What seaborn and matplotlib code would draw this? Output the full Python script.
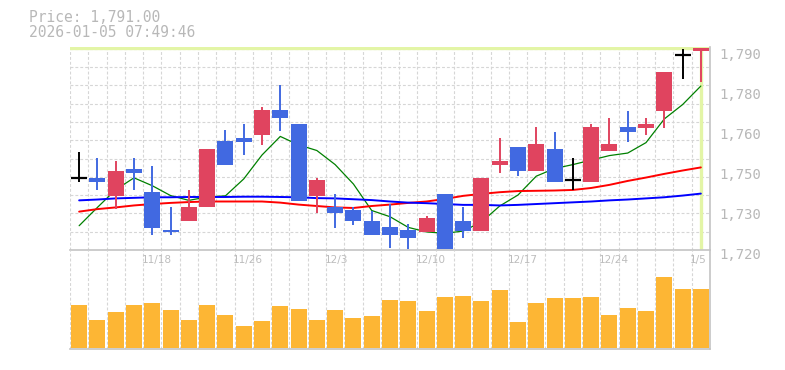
import numpy as np
import pandas as pd
import matplotlib
matplotlib.use("Agg")
import matplotlib.pyplot as plt
import matplotlib.transforms as mtrans
import seaborn as sns

# ---------------- data ----------------
dates = ['11/12', '11/13', '11/14', '11/17', '11/18', '11/19', '11/20', '11/21', '11/25', '11/26',
         '11/27', '11/28', '12/1', '12/2', '12/3', '12/4', '12/5', '12/8', '12/9', '12/10',
         '12/11', '12/12', '12/15', '12/16', '12/17', '12/18', '12/19', '12/22', '12/23', '12/24',
         '12/25', '12/26', '12/29', '12/30', '1/5']
label_dates = ['11/18', '11/26', '12/3', '12/10', '12/17', '12/24', '1/5']

open_ = [1745, 1745, 1738.5, 1748, 1740, 1726.5, 1729.5, 1734.5, 1758, 1759,
         1760, 1769, 1764, 1738.5, 1734.5, 1733.5, 1729.5, 1727.5, 1726.5, 1725.5,
         1739, 1729.5, 1726, 1749.5, 1756, 1747.5, 1755, 1744, 1743.5, 1754.5,
         1763, 1762.5, 1768.5, 1788.5, 1790]
close = [1745, 1743.5, 1747.5, 1746.5, 1727, 1725.5, 1734.5, 1755, 1749.5, 1757.5,
         1769, 1766, 1736.5, 1744, 1732.5, 1729.5, 1724.5, 1724.5, 1723.5, 1730.5,
         1719.5, 1726, 1745, 1751, 1747.5, 1757, 1743.5, 1744, 1763, 1757,
         1761, 1764, 1782.5, 1788.5, 1791]
high = [1754, 1752, 1751, 1752, 1749, 1734.5, 1740.5, 1755, 1762, 1764,
        1770, 1778, 1764, 1745, 1739, 1734.5, 1733, 1735.5, 1728.5, 1731.5,
        1739, 1734.5, 1745, 1759, 1756, 1763, 1761, 1752, 1764, 1766,
        1768.5, 1766, 1782.5, 1790.5, 1791]
low = [1743.5, 1740.5, 1734, 1740.5, 1724.5, 1724.5, 1729.5, 1734.5, 1749.5, 1753,
       1756.5, 1761.5, 1736.5, 1732.5, 1727, 1728, 1724.5, 1720, 1719.5, 1725.5,
       1719.5, 1723.5, 1726, 1746.5, 1745.5, 1747.5, 1743.5, 1740.5, 1743.5, 1754.5,
       1757.5, 1760, 1762.5, 1780, 1779]

ma_short = [1727.9, 1734.4, 1740.7, 1744.9, 1742.1, 1738.6, 1736.9, 1738.1, 1738.5, 1744.5,
            1753.0, 1759.6, 1756.6, 1754.6, 1749.6, 1742.7, 1733.3, 1731.1, 1727.3, 1725.7,
            1725.2, 1726.0, 1729.2, 1734.9, 1738.8, 1745.5, 1748.2, 1749.6, 1751.2, 1752.8,
            1753.7, 1757.4, 1765.8, 1770.9, 1777.5]
ma_mid = [1732.9, 1733.8, 1734.4, 1735.1, 1735.6, 1736.0, 1736.3, 1736.5, 1736.5, 1736.5,
          1736.5, 1736.1, 1735.4, 1734.9, 1734.4, 1734.2, 1734.9, 1735.4, 1736.0, 1736.5,
          1737.4, 1738.5, 1739.2, 1739.8, 1740.2, 1740.3, 1740.4, 1740.6, 1741.3, 1742.4,
          1743.8, 1745.0, 1746.3, 1747.5, 1748.6]
ma_long = [1736.9, 1737.2, 1737.6, 1737.8, 1738.0, 1738.0, 1738.1, 1738.1, 1738.1, 1738.2,
           1738.2, 1738.1, 1738.0, 1737.7, 1737.6, 1737.3, 1737.0, 1736.5, 1736.1, 1735.9,
           1735.6, 1735.3, 1735.3, 1735.1, 1735.3, 1735.6, 1735.9, 1736.2, 1736.5, 1736.9,
           1737.2, 1737.6, 1738.0, 1738.6, 1739.3]
volume = [42.7, 27.7, 35.7, 42.7, 44.7, 37.7, 27.7, 42.7, 32.7, 21.7,
          26.7, 41.7, 38.7, 27.7, 37.7, 29.7, 31.7, 47.7, 46.7, 36.7,
          50.7, 51.7, 46.7, 57.7, 25.7, 44.7, 49.7, 49.7, 50.7, 32.7,
          39.7, 36.7, 70.7, 58.7, 58.7]
current_price = 1791.0
price_title = 'Price: 1,791.00'
time_title = '2026-01-05 07:49:46'

# ---------------- style ----------------
sns.set_theme(style="white")
plt.rcParams['font.family'] = ['DejaVu Sans']

UP = '#e0445f'
DOWN = '#4169e1'
DOJI = '#000000'
VOLC = '#fdb634'
GRID = '#d6d6d6'
SPINE = '#c4c4c4'
TXT = '#b8b8b8'
HL = '#e3f5a6'

W, H = 785, 370
fig = plt.figure(figsize=(W / 100, H / 100), dpi=100)
fig.patch.set_facecolor('white')

ax = fig.add_axes([70 / W, (H - 250) / H, 640 / W, 203 / H])
axv = fig.add_axes([70 / W, (H - 349.3) / H, 640 / W, 99.3 / H])

n = len(dates)
x = np.arange(n)
df = pd.DataFrame({'x': x, 'date': dates, 'open': open_, 'close': close,
                   'high': high, 'low': low, 'ma_s': ma_short, 'ma_m': ma_mid,
                   'ma_l': ma_long, 'vol': volume})

ylo, yhi = 1719.28, 1791.35
ax.set_xlim(-0.5, n - 0.5)
ax.set_ylim(ylo, yhi)
axv.set_xlim(-0.5, n - 0.5)
axv.set_ylim(-1.6, 97.7)

dash = (0, (2.6, 1.8))
# grid
cell = 18.29 / 203 * (yhi - ylo)
for k in range(12):
    ax.axhline(ylo + k * cell, color=GRID, lw=0.8, ls=dash, zorder=0)
for i in range(n + 1):
    ax.axvline(i - 0.5, color=GRID, lw=0.8, ls=dash, zorder=0)
    axv.axvline(i - 0.5, color=GRID, lw=0.8, ls=dash, zorder=0)

# current price highlight
ax.axhline(current_price, color=HL, lw=2.4, zorder=1)
ax.axvline(x[-1], color=HL, lw=2.4, zorder=1)

# moving averages
sns.lineplot(data=df, x='x', y='ma_s', ax=ax, color='green', lw=0.9, zorder=2, drawstyle='default')
sns.lineplot(data=df, x='x', y='ma_m', ax=ax, color='red', lw=1.4, zorder=2)
sns.lineplot(data=df, x='x', y='ma_l', ax=ax, color='blue', lw=1.4, zorder=2)

# candles
bw = 0.875
for xi, o, c, h, l in zip(x, open_, close, high, low):
    if c > o:
        col = UP
    elif c < o:
        col = DOWN
    else:
        col = DOJI
    ax.vlines(xi, l, h, color=col, lw=1.4, zorder=3)
    if c == o:
        ax.hlines(c, xi - bw / 2, xi + bw / 2, color=col, lw=1.6, zorder=4)
    else:
        ax.bar(xi, abs(c - o), bottom=min(o, c), width=bw, color=col, lw=0, zorder=4)

# volume
sns.barplot(data=df, x='x', y='vol', ax=axv, native_scale=True, color=VOLC,
            saturation=1, width=bw, linewidth=0, zorder=3)
axv.set_xlim(-0.5, n - 0.5)
axv.set_ylim(-1.6, 97.7)

for a in (ax, axv):
    a.set_xlabel('')
    a.set_ylabel('')
    a.set_xticks([])
    a.set_yticks([])
    a.set_facecolor('none')
    for s in ('left', 'top'):
        a.spines[s].set_visible(False)
    for s in ('right', 'bottom'):
        a.spines[s].set_visible(True)
        a.spines[s].set_color(SPINE)
        a.spines[s].set_linewidth(1.2)

# y labels (rounded to tens)
ticks = np.linspace(current_price, 1720, 6)
tr = mtrans.blended_transform_factory(ax.transAxes, ax.transData)
for t in ticks:
    ax.text(649 / 640, t, f"{int(round(t / 10) * 10):,}", transform=tr, ha='left', va='top',
            family='DejaVu Sans Mono', fontsize=10, color=TXT, clip_on=False)

# x labels
trv = mtrans.blended_transform_factory(axv.transData, axv.transAxes)
for d in label_dates:
    i = dates.index(d)
    axv.text(i - 0.58, 1 - 5 / 99.3, d, transform=trv, ha='left', va='top',
             fontsize=7.6, color='#bdbdbd', zorder=5)

fig.text(29 / W, 1 - 10 / H, price_title, ha='left', va='top', family='DejaVu Sans Mono',
         fontsize=10.5, color=TXT)
fig.text(29 / W, 1 - 25 / H, time_title, ha='left', va='top', family='DejaVu Sans Mono',
         fontsize=10.5, color=TXT)

fig.savefig('out.png', dpi=100, facecolor='white')
